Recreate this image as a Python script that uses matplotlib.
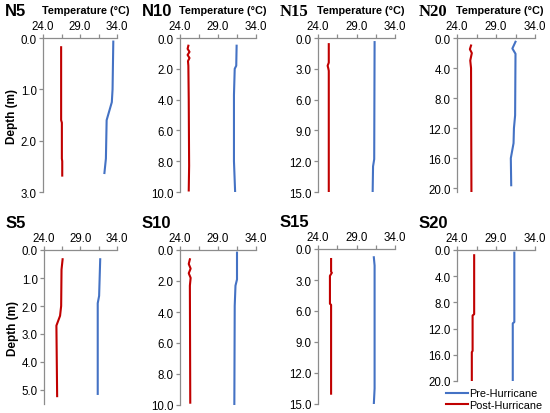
import matplotlib.pyplot as plt
import numpy as np

W, H = 550, 414

# station names, depth axis limits and ticks
stations = ["N5", "N10", "N15", "N20", "S5", "S10", "S15", "S20"]
depth_max = [3.0, 10.0, 15.0, 20.5, 5.5, 10.0, 15.0, 20.0]
depth_step = [1.0, 2.0, 3.0, 4.0, 1.0, 2.0, 3.0, 4.0]
depth_last = [3.0, 10.0, 15.0, 20.0, 5.0, 10.0, 15.0, 20.0]

# pre-hurricane profiles (depth m, temperature C)
pre_depth = {
    "N5": [0.07, 1.0, 1.25, 1.6, 2.35, 2.63],
    "N10": [0.5, 1.8, 2.0, 3.7, 8.0, 9.95],
    "N15": [0.4, 11.8, 12.5, 14.9],
    "N20": [0.5, 1.4, 2.1, 10.3, 12.0, 14.0, 16.0, 19.6],
    "S5": [0.33, 1.64, 1.9, 5.14],
    "S10": [0.17, 1.9, 2.3, 3.6, 9.95],
    "S15": [0.8, 1.6, 13.5, 15.0],
    "S20": [0.4, 11.0, 11.2, 20.0],
}
pre_temp = {
    "N5": [33.5, 33.4, 33.3, 32.6, 32.5, 32.3],
    "N10": [31.45, 31.4, 31.2, 31.1, 31.1, 31.25],
    "N15": [31.35, 31.3, 31.15, 31.1],
    "N20": [31.5, 31.1, 31.5, 31.45, 31.3, 31.25, 30.9, 30.95],
    "S5": [31.7, 31.55, 31.36, 31.36],
    "S10": [31.5, 31.5, 31.3, 31.2, 31.15],
    "S15": [31.25, 31.35, 31.35, 31.25],
    "S20": [31.35, 31.35, 31.15, 31.15],
}

# post-hurricane profiles
post_depth = {
    "N5": [0.18, 1.6, 1.65, 2.35, 2.4, 2.68],
    "N10": [0.5, 0.7, 0.9, 1.1, 1.3, 1.5, 1.8, 4.0, 8.3, 9.9],
    "N15": [0.6, 2.4, 2.7, 3.0, 3.2, 14.9],
    "N20": [1.0, 1.5, 2.0, 3.0, 4.0, 20.5],
    "S5": [0.33, 0.7, 2.0, 2.35, 2.7, 5.22],
    "S10": [0.6, 0.9, 1.2, 1.5, 1.8, 2.3, 9.85],
    "S15": [0.97, 2.2, 2.3, 2.6, 5.3, 5.4, 14.0],
    "S20": [0.8, 9.8, 10.0, 15.4, 15.6, 19.85],
}
post_temp = {
    "N5": [26.45, 26.45, 26.55, 26.55, 26.6, 26.6],
    "N10": [25.1, 25.0, 25.25, 25.0, 25.25, 25.05, 25.1, 25.15, 25.2, 25.15],
    "N15": [25.4, 25.4, 25.25, 25.35, 25.4, 25.4],
    "N20": [25.8, 25.65, 25.9, 25.7, 25.8, 25.85],
    "S5": [26.55, 26.4, 26.35, 26.2, 25.7, 25.8],
    "S10": [25.3, 25.15, 25.4, 25.15, 25.4, 25.3, 25.35],
    "S15": [25.7, 25.7, 25.8, 25.55, 25.55, 25.7, 25.7],
    "S20": [26.2, 26.2, 26.0, 26.0, 25.9, 25.9],
}

temp_ticks = [24.0, 29.0, 34.0]

# axes boxes in pixels: left, top, right, bottom
boxes = [
    (43, 39, 117, 193), (180, 39, 256, 193), (318, 39, 395, 193), (457, 39, 535, 193),
    (44, 251, 117, 405), (180, 251, 256, 406), (318, 250, 395, 405), (457, 251, 535, 382),
]

BLUE = "#4472C4"
RED = "#C00000"
AXC = "#8c8c8c"

plt.rcParams["font.family"] = ["Liberation Sans", "DejaVu Sans"]
fig = plt.figure(figsize=(W / 100, H / 100), dpi=100)

for i, st in enumerate(stations):
    l, t, r, b = boxes[i]
    ax = fig.add_axes([l / W, 1 - b / H, (r - l) / W, (b - t) / H])
    ax.plot(pre_temp[st], pre_depth[st], color=BLUE, lw=1.5, label="Pre-Hurricane")
    ax.plot(post_temp[st], post_depth[st], color=RED, lw=1.5, label="Post-Hurricane")
    ax.set_xlim(24, 34)
    ax.set_ylim(depth_max[i], 0)
    ax.xaxis.tick_top()
    ax.set_xticks(np.arange(24, 34.1, 2.5))
    ax.set_xticklabels(["%.1f" % v if v in temp_ticks else "" for v in np.arange(24, 34.1, 2.5)])
    yt = np.arange(0, depth_last[i] + 0.01, depth_step[i])
    ax.set_yticks(yt)
    ax.set_yticklabels(["%.1f" % v for v in yt])
    for s in ["right", "bottom"]:
        ax.spines[s].set_visible(False)
    for s in ["left", "top"]:
        ax.spines[s].set_color(AXC)
        ax.spines[s].set_linewidth(0.9)
    ax.tick_params(axis="both", colors=AXC, labelcolor="black", labelsize=8.3,
                   length=3, width=0.9, pad=1.5)
    ax.patch.set_alpha(0)

    x0 = l - 38
    y0 = t - 27
    fam = ["Liberation Serif"] if st in ["N15", "N20"] else ["Liberation Sans"]
    fig.text((x0) / W, 1 - y0 / H, st, fontsize=12, fontweight="bold",
             family=fam, va="center", ha="left")
    if i < 4:
        fig.text((l + 43) / W, 1 - (y0 - 1) / H, "Temperature (\u00b0C)", fontsize=7.8,
                 fontweight="bold", va="center", ha="center")
    if i in (0, 4):
        ax.set_ylabel("Depth (m)", fontsize=8.5, fontweight="bold", labelpad=2)

handles, labels = ax.get_legend_handles_labels()
fig.legend(handles, labels, loc="upper left", bbox_to_anchor=(441 / W, 1 - 384 / H),
           frameon=False, fontsize=7.8, handlelength=2.0, handletextpad=0.1,
           labelspacing=0.15, borderpad=0)

fig.savefig("out.png", dpi=100)
